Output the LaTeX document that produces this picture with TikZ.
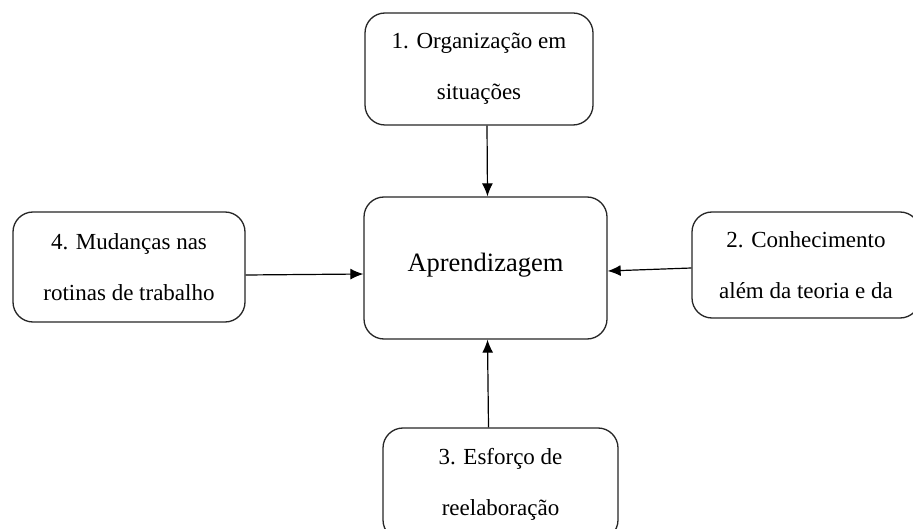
\documentclass[tikz,border=0pt]{standalone}
\usepackage{fontspec}
\setmainfont{Liberation Serif}
\usetikzlibrary{arrows.meta}
\begin{document}
\begin{tikzpicture}[x=1pt,y=-1pt,
  box/.style={draw=black!85,line width=1.3pt,rounded corners=20pt,fill=white,align=center,inner sep=0pt,
    font=\fontsize{23}{51}\selectfont},
  conn/.style={line width=1.2pt,-{Latex[length=13pt,width=11pt]}}]
\clip (0,0) rectangle (913,529);
\node[box,minimum width=228pt,minimum height=112pt] (b1) at (479,69) {1. Organização em\\situações};
\node[box,minimum width=243pt,minimum height=142pt,font=\fontsize{26.5}{30}\selectfont] (c) at (485.5,268) {\raisebox{11pt}{Aprendizagem}};
\node[box,minimum width=228pt,minimum height=106pt] (b2) at (806,265) {2. Conhecimento\\além da teoria e da};
\node[box,minimum width=235pt,minimum height=112pt] (b3) at (500.5,484) {3. Esforço de\\reelaboração};
\node[box,minimum width=232pt,minimum height=110pt] (b4) at (129,267) {4. Mudanças nas\\rotinas de trabalho};
\draw[conn] ([xshift=8pt]b1.south) -- ([xshift=2pt]c.north);
\draw[conn] ([yshift=-3pt]b2.west) -- ([yshift=-3pt]c.east);
\draw[conn] ([xshift=-12pt]b3.north) -- ([xshift=2pt]c.south);
\draw[conn] ([yshift=-8pt]b4.east) -- ([yshift=-6pt]c.west);
\end{tikzpicture}
\end{document}
